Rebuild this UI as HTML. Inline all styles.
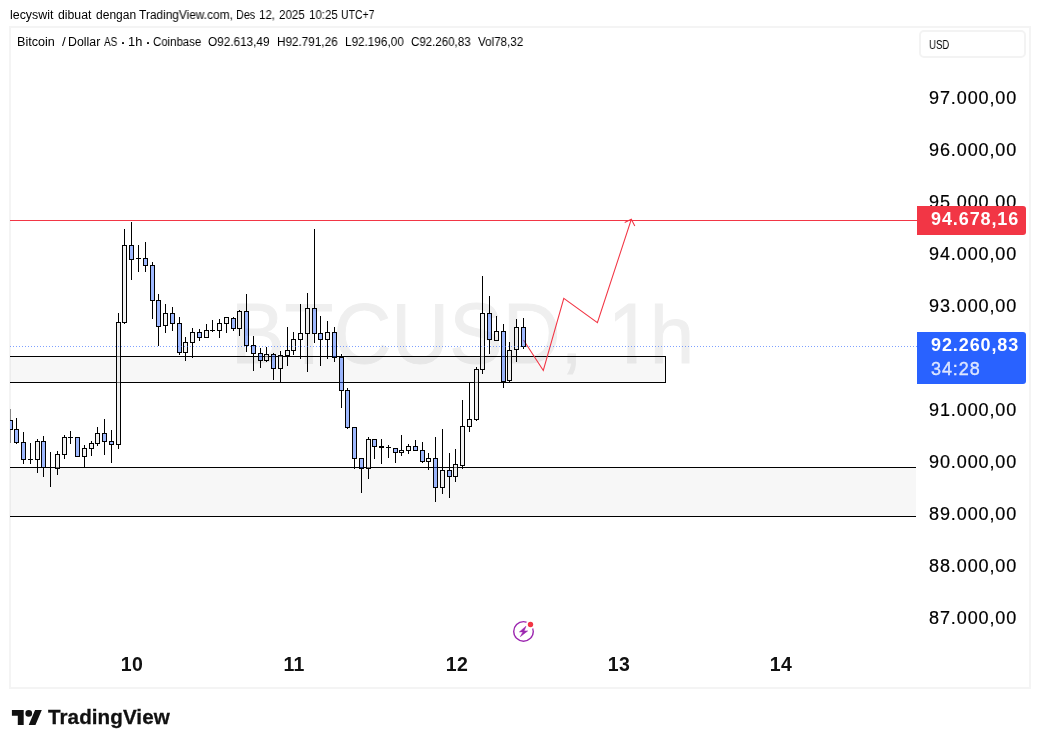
<!DOCTYPE html>
<html><head><meta charset="utf-8"><title>BTCUSD</title>
<style>
html,body{margin:0;padding:0;background:#fff;}
body{width:1040px;height:748px;position:relative;overflow:hidden;font-family:"Liberation Sans",sans-serif;color:#131722;}
.abs{position:absolute;white-space:nowrap;}
.abs,.pl,.tl,.bl{will-change:transform;}
#hdr{left:10.5px;top:7.4px;font-size:12px;line-height:16px;letter-spacing:-0.08px;color:#000;}
.w{font-size:12px;line-height:16px;color:#000;transform-origin:0 0;}
.dot{width:2.4px;height:2.4px;background:#111;border-radius:0.6px;}
#frame{left:9px;top:26px;width:1018px;height:659px;border:2px solid #f4f4f4;}
#leg,.lg{top:34.3px;font-size:12px;line-height:16px;color:#000;}
#usd{left:919.4px;top:30.1px;width:103.4px;height:23.5px;border:2px solid #f3f3f3;border-radius:5px;}
#usdt{left:929.3px;top:36.8px;font-size:12px;line-height:16px;transform-origin:0 0;transform:scaleX(0.8);color:#000;}
.pl{-webkit-text-stroke:0.2px #000;position:absolute;left:929.3px;height:24px;line-height:24px;font-size:18px;letter-spacing:0.9px;white-space:nowrap;color:#000;}
.tl{position:absolute;top:651.9px;height:24px;line-height:24px;font-size:19.5px;letter-spacing:0.3px;font-weight:bold;width:40px;text-align:center;color:#111;}
#redbox{left:917px;top:206px;width:109px;height:29px;background:#f23645;border-radius:0 3px 3px 0;}
#bluebox{left:917px;top:332px;width:109px;height:52px;background:#2962ff;border-radius:0 3px 3px 0;}
.bl{position:absolute;left:13.5px;font-size:18px;font-weight:bold;letter-spacing:0.9px;color:#fff;height:24px;line-height:24px;white-space:nowrap;}
#wm{left:231px;top:289px;font-size:80px;line-height:93px;color:#000;-webkit-text-stroke:0.9px #000;opacity:0.065;letter-spacing:0.1px;transform-origin:0 74px;transform:scaleY(1.07);}
#wm b{font-weight:normal;display:inline-block;transform-origin:0 74px;transform:scaleY(0.945);}
#wm span{display:inline-block;position:relative;left:2.5px;clip-path:polygon(0 0,64.5% 0,64.5% 100%,43.5% 100%,43.5% 43%,0 43%);}
#tvtext{left:48.4px;top:704.1px;font-size:20.6px;line-height:26px;font-weight:bold;color:#111;letter-spacing:0.08px;-webkit-text-stroke:0.3px #111;}
</style></head><body>
<div class="abs w" style="left:10.42px;top:7.4px;transform:scaleX(1.032)">lecyswit</div>
<div class="abs w" style="left:58.0px;top:7.4px;transform:scaleX(1.022)">dibuat</div>
<div class="abs w" style="left:96.14px;top:7.4px;transform:scaleX(1.0022)">dengan</div>
<div class="abs w" style="left:139.23px;top:7.4px;transform:scaleX(0.9907)">TradingView.com,</div>
<div class="abs w" style="left:236.31px;top:7.4px;transform:scaleX(0.9016)">Des</div>
<div class="abs w" style="left:259.46px;top:7.4px;transform:scaleX(0.955)">12,</div>
<div class="abs w" style="left:278.75px;top:7.4px;transform:scaleX(0.9668)">2025</div>
<div class="abs w" style="left:308.81px;top:7.4px;transform:scaleX(0.9597)">10:25</div>
<div class="abs w" style="left:341.32px;top:7.4px;transform:scaleX(0.8709)">UTC+7</div>
<div id="frame" class="abs"></div>
<div id="wm" class="abs">BTCUSD, <span>1</span><b>h</b></div>
<svg class="abs" style="left:0;top:0" width="1040" height="748" viewBox="0 0 1040 748" shape-rendering="crispEdges">
<!-- zones -->
<rect x="10" y="467" width="906" height="49" fill="rgba(0,0,0,0.03)"/>
<rect x="10" y="467" width="906" height="1" fill="#000"/>
<rect x="10" y="516" width="906" height="1" fill="#000"/>
<rect x="10" y="356" width="656" height="27" fill="rgba(0,0,0,0.03)"/>
<rect x="10" y="356" width="656" height="1" fill="#000"/>
<rect x="10" y="382" width="656" height="1" fill="#000"/>
<rect x="665" y="356" width="1" height="27" fill="#000"/>
<!-- red level -->
<rect x="10" y="220" width="907" height="1" fill="#f23645"/>
<!-- projection -->
<g shape-rendering="auto" fill="none" stroke="#f23645" stroke-width="1.1" stroke-linejoin="miter">
<polyline points="523.5,340 543.3,370.5 563.8,298.3 597.4,322.7 631.3,219.3"/>
<polyline points="624.7,222.4 631.3,219.3 634.8,225.9"/>
</g>
<!-- candles -->
<clipPath id="cp"><rect x="10" y="28" width="907" height="658"/></clipPath>
<g fill="#000" clip-path="url(#cp)">
<rect x="10" y="409" width="1" height="11" fill="#888"/>
<rect x="10" y="430" width="1" height="13" fill="#888"/>
<rect x="8.5" y="420.5" width="4" height="9" fill="rgba(41,98,255,0.45)" stroke="#000" stroke-width="1"/>
<rect x="16" y="418" width="1" height="11"/>
<rect x="16" y="443" width="1" height="1"/>
<rect x="14.5" y="429.5" width="4" height="13" fill="rgba(41,98,255,0.45)" stroke="#000" stroke-width="1"/>
<rect x="23" y="432" width="1" height="10"/>
<rect x="23" y="460" width="1" height="4"/>
<rect x="21.5" y="442.5" width="4" height="17" fill="rgba(41,98,255,0.45)" stroke="#000" stroke-width="1"/>
<rect x="30" y="443" width="1" height="21"/>
<rect x="28" y="459" width="5" height="1"/>
<rect x="37" y="439" width="1" height="2"/>
<rect x="37" y="460" width="1" height="13"/>
<rect x="35.5" y="441.5" width="4" height="18" fill="rgba(230,230,230,0.5)" stroke="#000" stroke-width="1"/>
<rect x="43" y="436" width="1" height="5"/>
<rect x="43" y="468" width="1" height="9"/>
<rect x="41.5" y="441.5" width="4" height="26" fill="rgba(41,98,255,0.45)" stroke="#000" stroke-width="1"/>
<rect x="50" y="452" width="1" height="35"/>
<rect x="48" y="467" width="5" height="1"/>
<rect x="57" y="451" width="1" height="3"/>
<rect x="57" y="469" width="1" height="6"/>
<rect x="55.5" y="454.5" width="4" height="14" fill="rgba(230,230,230,0.5)" stroke="#000" stroke-width="1"/>
<rect x="64" y="435" width="1" height="2"/>
<rect x="64" y="455" width="1" height="4"/>
<rect x="62.5" y="437.5" width="4" height="17" fill="rgba(230,230,230,0.5)" stroke="#000" stroke-width="1"/>
<rect x="70" y="431" width="1" height="13"/>
<rect x="68" y="437" width="5" height="1"/>
<rect x="75.5" y="437.5" width="4" height="19" fill="rgba(41,98,255,0.45)" stroke="#000" stroke-width="1"/>
<rect x="84" y="445" width="1" height="3"/>
<rect x="84" y="457" width="1" height="11"/>
<rect x="82.5" y="448.5" width="4" height="8" fill="rgba(230,230,230,0.5)" stroke="#000" stroke-width="1"/>
<rect x="91" y="441" width="1" height="2"/>
<rect x="91" y="449" width="1" height="7"/>
<rect x="89.5" y="443.5" width="4" height="5" fill="rgba(230,230,230,0.5)" stroke="#000" stroke-width="1"/>
<rect x="97" y="427" width="1" height="6"/>
<rect x="97" y="444" width="1" height="2"/>
<rect x="95.5" y="433.5" width="4" height="10" fill="rgba(230,230,230,0.5)" stroke="#000" stroke-width="1"/>
<rect x="104" y="419" width="1" height="14"/>
<rect x="104" y="442" width="1" height="13"/>
<rect x="102.5" y="433.5" width="4" height="8" fill="rgba(41,98,255,0.45)" stroke="#000" stroke-width="1"/>
<rect x="111" y="430" width="1" height="11"/>
<rect x="111" y="445" width="1" height="18"/>
<rect x="109.5" y="441.5" width="4" height="3" fill="rgba(41,98,255,0.45)" stroke="#000" stroke-width="1"/>
<rect x="118" y="313" width="1" height="9"/>
<rect x="118" y="445" width="1" height="4"/>
<rect x="116.5" y="322.5" width="4" height="122" fill="rgba(230,230,230,0.5)" stroke="#000" stroke-width="1"/>
<rect x="124" y="229" width="1" height="16"/>
<rect x="124" y="323" width="1" height="1"/>
<rect x="122.5" y="245.5" width="4" height="77" fill="rgba(230,230,230,0.5)" stroke="#000" stroke-width="1"/>
<rect x="131" y="222" width="1" height="23"/>
<rect x="131" y="260" width="1" height="20"/>
<rect x="129.5" y="245.5" width="4" height="14" fill="rgba(41,98,255,0.45)" stroke="#000" stroke-width="1"/>
<rect x="138" y="245" width="1" height="27"/>
<rect x="136" y="258" width="5" height="1"/>
<rect x="145" y="242" width="1" height="16"/>
<rect x="145" y="266" width="1" height="6"/>
<rect x="143.5" y="258.5" width="4" height="7" fill="rgba(41,98,255,0.45)" stroke="#000" stroke-width="1"/>
<rect x="152" y="262" width="1" height="3"/>
<rect x="152" y="301" width="1" height="18"/>
<rect x="150.5" y="265.5" width="4" height="35" fill="rgba(41,98,255,0.45)" stroke="#000" stroke-width="1"/>
<rect x="158" y="294" width="1" height="6"/>
<rect x="158" y="327" width="1" height="19"/>
<rect x="156.5" y="300.5" width="4" height="26" fill="rgba(41,98,255,0.45)" stroke="#000" stroke-width="1"/>
<rect x="165" y="304" width="1" height="9"/>
<rect x="165" y="326" width="1" height="7"/>
<rect x="163.5" y="313.5" width="4" height="12" fill="rgba(230,230,230,0.5)" stroke="#000" stroke-width="1"/>
<rect x="172" y="307" width="1" height="6"/>
<rect x="172" y="324" width="1" height="7"/>
<rect x="170.5" y="313.5" width="4" height="10" fill="rgba(41,98,255,0.45)" stroke="#000" stroke-width="1"/>
<rect x="179" y="317" width="1" height="6"/>
<rect x="179" y="353" width="1" height="2"/>
<rect x="177.5" y="323.5" width="4" height="29" fill="rgba(41,98,255,0.45)" stroke="#000" stroke-width="1"/>
<rect x="185" y="337" width="1" height="5"/>
<rect x="185" y="353" width="1" height="8"/>
<rect x="183.5" y="342.5" width="4" height="10" fill="rgba(230,230,230,0.5)" stroke="#000" stroke-width="1"/>
<rect x="192" y="328" width="1" height="4"/>
<rect x="192" y="343" width="1" height="15"/>
<rect x="190.5" y="332.5" width="4" height="10" fill="rgba(230,230,230,0.5)" stroke="#000" stroke-width="1"/>
<rect x="199" y="329" width="1" height="3"/>
<rect x="199" y="338" width="1" height="3"/>
<rect x="197.5" y="332.5" width="4" height="5" fill="rgba(41,98,255,0.45)" stroke="#000" stroke-width="1"/>
<rect x="206" y="324" width="1" height="6"/>
<rect x="204.5" y="330.5" width="4" height="7" fill="rgba(230,230,230,0.5)" stroke="#000" stroke-width="1"/>
<rect x="212" y="320" width="1" height="12"/>
<rect x="210" y="330" width="5" height="1"/>
<rect x="219" y="319" width="1" height="4"/>
<rect x="219" y="331" width="1" height="7"/>
<rect x="217.5" y="323.5" width="4" height="7" fill="rgba(230,230,230,0.5)" stroke="#000" stroke-width="1"/>
<rect x="226" y="324" width="1" height="9"/>
<rect x="224.5" y="317.5" width="4" height="6" fill="rgba(230,230,230,0.5)" stroke="#000" stroke-width="1"/>
<rect x="233" y="317" width="1" height="1"/>
<rect x="233" y="329" width="1" height="2"/>
<rect x="231.5" y="318.5" width="4" height="10" fill="rgba(41,98,255,0.45)" stroke="#000" stroke-width="1"/>
<rect x="239" y="310" width="1" height="1"/>
<rect x="239" y="329" width="1" height="7"/>
<rect x="237.5" y="311.5" width="4" height="17" fill="rgba(230,230,230,0.5)" stroke="#000" stroke-width="1"/>
<rect x="246" y="294" width="1" height="17"/>
<rect x="246" y="346" width="1" height="6"/>
<rect x="244.5" y="311.5" width="4" height="34" fill="rgba(41,98,255,0.45)" stroke="#000" stroke-width="1"/>
<rect x="253" y="336" width="1" height="9"/>
<rect x="253" y="354" width="1" height="17"/>
<rect x="251.5" y="345.5" width="4" height="8" fill="rgba(41,98,255,0.45)" stroke="#000" stroke-width="1"/>
<rect x="260" y="348" width="1" height="5"/>
<rect x="260" y="361" width="1" height="7"/>
<rect x="258.5" y="353.5" width="4" height="7" fill="rgba(41,98,255,0.45)" stroke="#000" stroke-width="1"/>
<rect x="266" y="347" width="1" height="7"/>
<rect x="266" y="361" width="1" height="1"/>
<rect x="264.5" y="354.5" width="4" height="6" fill="rgba(230,230,230,0.5)" stroke="#000" stroke-width="1"/>
<rect x="273" y="353" width="1" height="1"/>
<rect x="273" y="369" width="1" height="11"/>
<rect x="271.5" y="354.5" width="4" height="14" fill="rgba(41,98,255,0.45)" stroke="#000" stroke-width="1"/>
<rect x="280" y="351" width="1" height="4"/>
<rect x="280" y="369" width="1" height="14"/>
<rect x="278.5" y="355.5" width="4" height="13" fill="rgba(230,230,230,0.5)" stroke="#000" stroke-width="1"/>
<rect x="287" y="327" width="1" height="23"/>
<rect x="287" y="356" width="1" height="10"/>
<rect x="285.5" y="350.5" width="4" height="5" fill="rgba(230,230,230,0.5)" stroke="#000" stroke-width="1"/>
<rect x="293" y="332" width="1" height="7"/>
<rect x="293" y="351" width="1" height="4"/>
<rect x="291.5" y="339.5" width="4" height="11" fill="rgba(230,230,230,0.5)" stroke="#000" stroke-width="1"/>
<rect x="300" y="304" width="1" height="29"/>
<rect x="300" y="340" width="1" height="19"/>
<rect x="298.5" y="333.5" width="4" height="6" fill="rgba(230,230,230,0.5)" stroke="#000" stroke-width="1"/>
<rect x="307" y="293" width="1" height="15"/>
<rect x="307" y="334" width="1" height="38"/>
<rect x="305.5" y="308.5" width="4" height="25" fill="rgba(230,230,230,0.5)" stroke="#000" stroke-width="1"/>
<rect x="314" y="229" width="1" height="79"/>
<rect x="314" y="334" width="1" height="9"/>
<rect x="312.5" y="308.5" width="4" height="25" fill="rgba(41,98,255,0.45)" stroke="#000" stroke-width="1"/>
<rect x="320" y="316" width="1" height="17"/>
<rect x="320" y="340" width="1" height="26"/>
<rect x="318.5" y="333.5" width="4" height="6" fill="rgba(41,98,255,0.45)" stroke="#000" stroke-width="1"/>
<rect x="327" y="321" width="1" height="11"/>
<rect x="327" y="340" width="1" height="19"/>
<rect x="325.5" y="332.5" width="4" height="7" fill="rgba(230,230,230,0.5)" stroke="#000" stroke-width="1"/>
<rect x="334" y="327" width="1" height="5"/>
<rect x="334" y="358" width="1" height="4"/>
<rect x="332.5" y="332.5" width="4" height="25" fill="rgba(41,98,255,0.45)" stroke="#000" stroke-width="1"/>
<rect x="341" y="354" width="1" height="3"/>
<rect x="341" y="391" width="1" height="17"/>
<rect x="339.5" y="357.5" width="4" height="33" fill="rgba(41,98,255,0.45)" stroke="#000" stroke-width="1"/>
<rect x="347" y="388" width="1" height="2"/>
<rect x="347" y="428" width="1" height="1"/>
<rect x="345.5" y="390.5" width="4" height="37" fill="rgba(41,98,255,0.45)" stroke="#000" stroke-width="1"/>
<rect x="354" y="459" width="1" height="10"/>
<rect x="352.5" y="427.5" width="4" height="31" fill="rgba(41,98,255,0.45)" stroke="#000" stroke-width="1"/>
<rect x="361" y="469" width="1" height="24"/>
<rect x="359.5" y="458.5" width="4" height="10" fill="rgba(41,98,255,0.45)" stroke="#000" stroke-width="1"/>
<rect x="368" y="437" width="1" height="2"/>
<rect x="368" y="469" width="1" height="10"/>
<rect x="366.5" y="439.5" width="4" height="29" fill="rgba(230,230,230,0.5)" stroke="#000" stroke-width="1"/>
<rect x="374" y="447" width="1" height="12"/>
<rect x="372.5" y="439.5" width="4" height="7" fill="rgba(41,98,255,0.45)" stroke="#000" stroke-width="1"/>
<rect x="381" y="439" width="1" height="25"/>
<rect x="379" y="446" width="5" height="2"/>
<rect x="388" y="445" width="1" height="13"/>
<rect x="386" y="447" width="5" height="1"/>
<rect x="395" y="453" width="1" height="10"/>
<rect x="393.5" y="448.5" width="4" height="4" fill="rgba(41,98,255,0.45)" stroke="#000" stroke-width="1"/>
<rect x="401" y="435" width="1" height="15"/>
<rect x="401" y="453" width="1" height="3"/>
<rect x="399.5" y="450.5" width="4" height="2" fill="rgba(230,230,230,0.5)" stroke="#000" stroke-width="1"/>
<rect x="408" y="444" width="1" height="2"/>
<rect x="408" y="451" width="1" height="3"/>
<rect x="406.5" y="446.5" width="4" height="4" fill="rgba(230,230,230,0.5)" stroke="#000" stroke-width="1"/>
<rect x="415" y="440" width="1" height="6"/>
<rect x="413.5" y="446.5" width="4" height="4" fill="rgba(41,98,255,0.45)" stroke="#000" stroke-width="1"/>
<rect x="422" y="442" width="1" height="8"/>
<rect x="422" y="462" width="1" height="1"/>
<rect x="420.5" y="450.5" width="4" height="11" fill="rgba(41,98,255,0.45)" stroke="#000" stroke-width="1"/>
<rect x="428" y="453" width="1" height="5"/>
<rect x="428" y="462" width="1" height="8"/>
<rect x="426.5" y="458.5" width="4" height="3" fill="rgba(230,230,230,0.5)" stroke="#000" stroke-width="1"/>
<rect x="435" y="437" width="1" height="21"/>
<rect x="435" y="488" width="1" height="14"/>
<rect x="433.5" y="458.5" width="4" height="29" fill="rgba(41,98,255,0.45)" stroke="#000" stroke-width="1"/>
<rect x="442" y="429" width="1" height="41"/>
<rect x="442" y="488" width="1" height="6"/>
<rect x="440.5" y="470.5" width="4" height="17" fill="rgba(230,230,230,0.5)" stroke="#000" stroke-width="1"/>
<rect x="449" y="453" width="1" height="17"/>
<rect x="449" y="477" width="1" height="21"/>
<rect x="447.5" y="470.5" width="4" height="6" fill="rgba(41,98,255,0.45)" stroke="#000" stroke-width="1"/>
<rect x="455" y="449" width="1" height="15"/>
<rect x="455" y="477" width="1" height="5"/>
<rect x="453.5" y="464.5" width="4" height="12" fill="rgba(230,230,230,0.5)" stroke="#000" stroke-width="1"/>
<rect x="462" y="400" width="1" height="26"/>
<rect x="462" y="466" width="1" height="3"/>
<rect x="460.5" y="426.5" width="4" height="39" fill="rgba(230,230,230,0.5)" stroke="#000" stroke-width="1"/>
<rect x="469" y="382" width="1" height="37"/>
<rect x="469" y="427" width="1" height="5"/>
<rect x="467.5" y="419.5" width="4" height="7" fill="rgba(230,230,230,0.5)" stroke="#000" stroke-width="1"/>
<rect x="476" y="367" width="1" height="2"/>
<rect x="476" y="420" width="1" height="1"/>
<rect x="474.5" y="369.5" width="4" height="50" fill="rgba(230,230,230,0.5)" stroke="#000" stroke-width="1"/>
<rect x="482" y="276" width="1" height="37"/>
<rect x="482" y="370" width="1" height="4"/>
<rect x="480.5" y="313.5" width="4" height="56" fill="rgba(230,230,230,0.5)" stroke="#000" stroke-width="1"/>
<rect x="489" y="296" width="1" height="17"/>
<rect x="489" y="340" width="1" height="14"/>
<rect x="487.5" y="313.5" width="4" height="26" fill="rgba(41,98,255,0.45)" stroke="#000" stroke-width="1"/>
<rect x="496" y="316" width="1" height="15"/>
<rect x="494.5" y="331.5" width="4" height="9" fill="rgba(230,230,230,0.5)" stroke="#000" stroke-width="1"/>
<rect x="503" y="324" width="1" height="7"/>
<rect x="503" y="382" width="1" height="6"/>
<rect x="501.5" y="331.5" width="4" height="50" fill="rgba(41,98,255,0.45)" stroke="#000" stroke-width="1"/>
<rect x="509" y="342" width="1" height="8"/>
<rect x="509" y="381" width="1" height="1"/>
<rect x="507.5" y="350.5" width="4" height="30" fill="rgba(230,230,230,0.5)" stroke="#000" stroke-width="1"/>
<rect x="516" y="319" width="1" height="8"/>
<rect x="516" y="350" width="1" height="12"/>
<rect x="514.5" y="327.5" width="4" height="22" fill="rgba(230,230,230,0.5)" stroke="#000" stroke-width="1"/>
<rect x="523" y="318" width="1" height="9"/>
<rect x="523" y="347" width="1" height="2"/>
<rect x="521.5" y="327.5" width="4" height="19" fill="rgba(41,98,255,0.45)" stroke="#000" stroke-width="1"/>
</g>
<!-- price dotted line -->
<line x1="10" y1="346.5" x2="917" y2="346.5" stroke="#2962ff" stroke-opacity="0.6" stroke-width="1" stroke-dasharray="1 2"/>
<!-- flash icon -->
<g shape-rendering="auto">
<circle cx="523.5" cy="631.4" r="9.8" fill="none" stroke="#9c27b0" stroke-width="1.4"/>
<circle cx="530.5" cy="624.5" r="4.6" fill="#fff"/>
<circle cx="530.5" cy="624.5" r="2.7" fill="#f23645"/>
<polygon points="526,626.2 519.4,631.9 522.9,631.9 520.3,636.7 527.7,630.9 524.1,630.9" fill="#9c27b0" stroke="#9c27b0" stroke-width="0.5" stroke-linejoin="round"/>
</g>
<!-- TradingView logo -->
<g shape-rendering="auto" transform="translate(11.9,706.8) scale(0.842,0.822)" fill="#111">
<path d="M14 22H7V11H0V4h14v18zM28 22h-8l7.5-18h8L28 22z"/><circle cx="20" cy="8" r="4"/>
</g>
</svg>
<div class="abs w" style="left:17.27px;top:34.3px;transform:scaleX(1.0513)">Bitcoin</div>
<div class="abs w" style="left:61.86px;top:34.3px;transform:scaleX(1.1168)">/</div>
<div class="abs w" style="left:68.46px;top:34.3px;transform:scaleX(1.0288)">Dollar</div>
<div class="abs w" style="left:104.3px;top:34.3px;transform:scaleX(0.8292)">AS</div>
<div class="abs w" style="left:127.59px;top:34.3px;transform:scaleX(1.0695)">1h</div>
<div class="abs w" style="left:153.31px;top:34.3px;transform:scaleX(0.9512)">Coinbase</div>
<div class="abs w" style="left:208.05px;top:34.3px;transform:scaleX(0.9821)">O92.613,49</div>
<div class="abs w" style="left:276.93px;top:34.3px;transform:scaleX(0.9763)">H92.791,26</div>
<div class="abs w" style="left:344.93px;top:34.3px;transform:scaleX(0.9773)">L92.196,00</div>
<div class="abs w" style="left:410.64px;top:34.3px;transform:scaleX(0.9603)">C92.260,83</div>
<div class="abs w" style="left:477.94px;top:34.3px;transform:scaleX(0.9692)">Vol78,32</div>
<div class="abs dot" style="left:122.1px;top:41.6px"></div>
<div class="abs dot" style="left:147.1px;top:41.6px"></div>
<div id="usd" class="abs"></div>
<div id="usdt" class="abs">USD</div>
<div class="pl" style="top:86.00px">97.000,00</div>
<div class="pl" style="top:137.95px">96.000,00</div>
<div class="pl" style="top:189.90px">95.000,00</div>
<div class="pl" style="top:241.85px">94.000,00</div>
<div class="pl" style="top:293.80px">93.000,00</div>
<div class="pl" style="top:397.70px">91.000,00</div>
<div class="pl" style="top:449.65px">90.000,00</div>
<div class="pl" style="top:501.60px">89.000,00</div>
<div class="pl" style="top:553.55px">88.000,00</div>
<div class="pl" style="top:605.50px">87.000,00</div>
<div id="redbox" class="abs"><div class="bl" style="top:1px;left:14px">94.678,16</div></div>
<div id="bluebox" class="abs"><div class="bl" style="top:1px">92.260,83</div><div class="bl" style="top:24.5px;color:rgba(255,255,255,0.8);font-weight:normal;-webkit-text-stroke:0.35px rgba(255,255,255,0.8)">34:28</div></div>
<div class="tl" style="left:111.7px">10</div>
<div class="tl" style="left:273.7px">11</div>
<div class="tl" style="left:436.5px">12</div>
<div class="tl" style="left:598.5px">13</div>
<div class="tl" style="left:760.5px">14</div>
<div id="tvtext" class="abs">TradingView</div>
</body></html>
